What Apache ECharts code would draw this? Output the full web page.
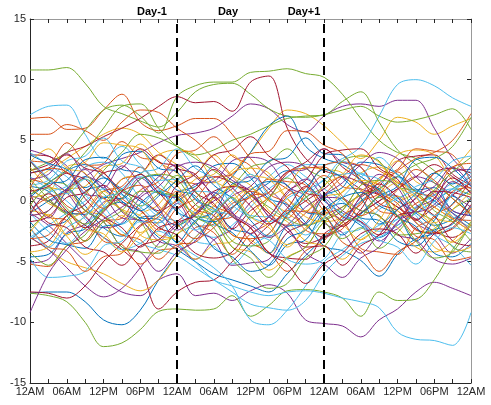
<!DOCTYPE html>
<html>
<head>
<meta charset="utf-8">
<script src="https://cdn.jsdelivr.net/npm/echarts@6/dist/echarts.min.js"></script>
<style>html,body{margin:0;padding:0;background:#fff}#c{width:491px;height:405px}</style>
</head>
<body>
<div id="c"></div>
<script>
// Hours sampled every 3 h over three days
const hours = [0,3,6,9,12,15,18,21,24,27,30,33,36,39,42,45,48,51,54,57,60,63,66,69,72];
const tickLabels = ['12AM','06AM','12PM','06PM'];
const dayLabels = ['Day-1','Day','Day+1'];
const dayBoundaries = [24,48];
const colors = ['#0072BD','#D95319','#EDB120','#7E2F8E','#77AC30','#4DBEEE','#A2142F'];

const blueSeries = [
 [-7.6,-7.5,-7.5,-8.3,-9.8,-10.2,-9.0,-6.5,-4.5,-3.0,-1.5,-0.5,0.5,1.5,2.5,1.5,0.0,-1.0,-2.0,-3.0,-2.0,-1.0,0.0,1.0,2.0],
 [0.5,1.5,2.5,3.0,2.0,1.0,0.0,-1.0,-2.0,-1.0,0.5,2.0,4.0,6.2,7.0,4.5,3.5,3.0,2.0,1.0,0.0,-1.0,-2.0,-1.5,-0.5],
 [-1.0,0.0,1.0,2.0,1.0,0.0,-1.5,-3.0,-4.0,-5.0,-6.0,-6.5,-7.0,-7.5,-6.0,-4.5,-3.0,-1.5,0.0,1.0,2.0,1.0,0.0,-1.0,-2.0],
 [2.3,2.6,1.2,-0.4,-2.2,-2.9,-1.4,-1.1,0.7,1.2,2.9,3.1,1.9,0.2,-0.3,-1.8,-3.7,-4.1,-4.9,-6.2,-4.4,-3.1,-2.6,-0.2,0.9],
 [-3.2,-2.1,-1.6,0.8,1.4,3.8,4.1,2.7,2.4,0.1,-0.6,-2.3,-2.7,-4.3,-2.1,-1.9,0.4,1.1,3.2,3.0,2.2,0.9,1.1,-0.8,-1.2],
 [1.2,0.8,-0.9,-1.1,0.3,0.2,1.8,2.1,0.9,0.4,-1.8,-2.6,-4.1,-5.3,-3.6,-3.2,-0.9,-0.2,-1.4,-1.6,-3.3,-3.7,-2.4,-1.9,0.3],
 [-4.6,-4.4,-2.7,-2.3,-0.6,-0.1,-1.4,-1.5,-3.4,-1.6,-0.9,1.4,1.7,3.3,3.6,5.2,3.9,3.8,1.6,0.9,-1.3,-2.1,-4.3,-4.6,-3.5],
 [0.3,1.4,1.7,3.4,3.6,2.6,2.3,0.6,0.4,-1.3,-1.7,-0.6,0.9,1.6,1.3,-0.9,-1.2,-2.8,-1.1,0.4,1.2,3.4,3.6,2.7,1.2],
 [-1.7,-3.2,-3.6,-3.9,-2.1,-1.9,-0.2,0.8,-0.9,-1.7,-3.9,-4.6,-5.8,-5.3,-3.1,-2.4,-0.7,0.3,0.7,-0.4,-1.2,-3.3,-1.6,0.4,-1.3],
 [3.8,3.1,2.6,1.1,1.9,0.6,-0.8,0.4,1.7,2.9,1.3,0.2,-1.6,-2.9,-1.1,0.8,2.6,1.9,0.3,-1.9,-0.7,0.6,2.3,1.4,2.9]
];
const orangeSeries = [
 [6.8,6.9,5.9,6.0,7.5,8.8,6.5,5.8,6.2,6.8,6.8,5.5,3.5,2.0,1.0,0.0,-1.0,-0.5,0.5,1.5,2.5,3.5,4.0,5.0,7.2],
 [5.5,5.5,6.3,5.8,5.0,6.5,7.5,7.3,6.0,5.0,3.5,2.0,0.5,-1.0,-2.0,-1.0,0.5,2.0,3.0,2.5,1.5,0.5,-0.5,-1.5,-2.5],
 [-0.7,0.3,0.8,2.8,3.1,4.9,3.6,3.3,1.6,1.4,-0.4,-1.1,-3.4,-4.2,-5.8,-4.1,-3.3,-1.2,-0.3,1.9,2.6,4.3,4.1,3.8,1.6],
 [1.8,1.3,-0.4,-1.2,-3.3,-3.6,-5.2,-4.1,-3.8,-2.2,-1.9,-0.2,0.3,1.8,1.6,1.3,-0.8,-1.6,-3.9,-4.2,-4.4,-2.2,-1.4,0.8,1.1],
 [-3.1,-2.8,-1.2,-0.9,0.8,1.2,2.8,1.1,0.3,-1.8,-2.6,-4.4,-2.7,-1.8,0.4,1.1,2.9,3.2,2.8,0.7,-0.2,-2.4,-2.6,-2.3,-0.6],
 [0.4,-1.3,-1.6,-3.3,-1.7,-1.4,0.9,1.6,3.9,4.2,5.3,3.7,2.9,0.6,-0.2,-2.4,-2.7,-2.3,-0.1,0.6,2.4,0.7,0.3,-1.4,-1.6],
 [-5.2,-5.4,-3.7,-3.3,-1.6,-2.8,-3.2,-4.8,-3.6,-3.4,-1.6,-1.3,0.4,0.7,2.4,2.7,2.8,1.2,0.9,-0.8,-1.2,-2.9,-3.2,-4.9,-4.6],
 [3.3,3.2,4.8,3.1,2.4,0.2,-0.7,-2.4,-0.6,0.2,1.9,2.2,3.9,4.1,5.8,5.7,4.6,3.9,1.7,0.8,-1.3,-0.2,0.7,2.8,3.1],
 [-2.2,-3.8,-4.1,-5.8,-4.6,-4.3,-2.1,-1.3,0.8,-0.7,-1.2,-2.8,-3.1,-2.7,-0.8,-0.9,-1.2,-3.4,-4.1,-5.8,-4.2,-3.3,-1.2,-0.3,1.8],
 [1.1,2.7,2.4,0.9,-0.6,0.8,1.3,-0.4,-1.9,-3.1,-2.2,-0.6,0.8,0.1,-1.4,0.6,2.1,0.4,-1.2,-0.4,0.9,2.6,1.7,0.2,-1.1]
];
const yellowSeries = [
 [1.5,2.5,3.5,4.5,5.5,6.0,5.5,4.0,3.0,2.0,1.5,2.5,4.0,6.0,7.5,7.2,6.2,4.8,3.5,5.0,6.9,6.5,5.5,6.2,6.8],
 [-1.2,-0.8,0.9,1.2,2.8,3.1,4.7,3.2,2.3,0.2,-0.7,-2.8,-3.2,-4.3,-2.6,-1.8,0.3,0.7,2.3,2.8,1.6,0.8,-1.3,-1.7,-0.6],
 [-3.0,-4.0,-5.0,-5.5,-6.0,-6.8,-7.4,-6.5,-4.5,-3.0,-1.5,0.0,1.0,0.0,-1.0,-2.0,-3.0,-2.0,-1.0,0.5,1.5,0.5,-0.5,-1.5,-2.5],
 [2.8,1.2,0.8,-0.8,-1.2,-2.8,-1.1,-0.3,1.8,2.2,3.8,2.1,1.3,-0.8,-1.7,-3.3,-3.7,-4.8,-3.2,-2.3,-0.2,0.7,2.3,2.7,4.3],
 [0.3,0.7,2.8,3.2,4.8,4.6,4.3,2.1,1.3,-0.8,-1.6,-3.8,-4.2,-5.7,-4.6,-3.8,-1.7,-0.8,1.3,1.7,3.3,1.6,0.8,-1.3,-2.2],
 [-4.2,-3.8,-1.7,-0.8,0.8,-0.7,-1.2,-2.8,-3.2,-4.8,-3.6,-3.3,-1.2,0.3,1.2,2.8,2.6,2.3,0.2,-1.3,-2.2,-3.8,-4.2,-3.3,-1.7],
 [3.2,4.3,2.7,2.3,0.2,-0.7,-2.8,-3.2,-2.8,-0.7,0.2,2.3,2.7,2.3,0.2,-1.3,-1.7,-1.3,0.8,1.7,3.8,4.2,3.8,1.7,0.8],
 [-0.8,-1.2,-2.8,-1.2,-0.3,1.8,2.2,3.8,4.2,3.8,1.7,0.8,-1.3,-2.2,-3.8,-2.2,-1.3,0.8,1.7,1.3,-0.8,-1.7,-3.8,-4.2,-3.8],
 [1.3,-0.2,-0.8,-2.3,-2.7,-4.2,-2.8,-1.7,0.2,1.8,2.2,3.8,2.2,1.8,0.2,-0.8,1.3,2.2,3.8,3.2,1.2,0.3,-1.8,-0.7,0.8],
 [-2.6,-1.1,-2.9,-4.4,-3.1,-1.2,-2.6,-0.9,0.6,-1.1,-0.4,1.3,0.2,-1.8,-3.6,-2.4,-0.6,-1.9,-3.2,-1.6,0.4,-0.8,-2.1,-3.4,-1.9]
];
const purpleSeries = [
 [0.5,0.0,1.0,2.0,3.0,3.5,4.0,4.8,5.4,5.6,6.0,7.0,8.0,7.6,6.3,5.7,7.0,7.8,8.0,7.8,8.3,8.3,6.0,3.5,2.0],
 [-1.0,-2.0,-3.5,-5.0,-6.5,-7.5,-7.8,-6.5,-6.0,-7.8,-7.6,-8.2,-7.4,-6.9,-7.6,-9.8,-10.1,-10.3,-11.2,-9.8,-8.9,-7.5,-6.7,-7.2,-7.8],
 [-3.0,-4.0,-5.5,-7.0,-7.9,-7.2,-5.5,-3.5,-2.0,-1.0,0.0,1.0,2.0,1.0,-0.5,-2.0,-3.0,-2.0,-1.0,0.0,1.0,2.0,1.5,0.5,-0.5],
 [4.2,3.7,2.9,0.6,0.3,-1.4,-1.6,-3.3,-3.7,-4.8,-3.2,-2.3,-0.1,0.7,2.4,2.6,4.3,3.2,2.8,0.6,0.4,-1.8,-2.7,-4.3,-3.1],
 [-5.1,-4.8,-2.6,-1.9,-0.1,0.2,1.9,0.6,0.3,1.4,1.6,3.3,3.6,3.2,1.2,0.4,-1.8,-2.6,-4.3,-2.8,-2.3,-0.6,0.2,2.4,2.6],
 [1.8,2.2,3.9,2.2,1.3,-0.9,-1.6,-1.8,-0.2,-2.4,-3.2,-5.3,-5.1,-4.8,-2.6,-1.8,0.3,0.2,-0.8,-1.2,-2.8,-3.2,-4.8,-5.2,-4.7],
 [-1.2,-0.8,0.9,-0.8,-1.7,-3.8,-4.2,-5.8,-4.2,-3.3,-1.2,0.4,1.2,2.8,3.2,2.8,0.7,-0.8,-1.7,-3.3,-1.8,0.3,1.2,2.8,1.2],
 [3.3,1.8,0.7,-1.3,-2.2,-1.8,0.3,1.2,2.8,3.2,2.8,1.7,0.8,-1.3,-2.2,-4.3,-5.2,-6.3,-4.7,-3.8,-1.7,-0.8,0.8,-0.8,-1.2],
 [-9.2,-6.0,-4.0,-2.5,-1.5,-0.5,0.5,2.0,3.0,2.0,0.5,-1.0,-2.0,-3.0,-2.0,-0.5,0.5,1.5,3.0,4.0,3.5,2.0,0.5,-1.0,-2.5],
 [0.6,-1.4,0.9,2.6,1.1,2.9,1.4,-0.6,-2.4,-1.1,0.7,-0.9,-2.7,-1.3,0.6,1.8,0.2,-1.6,0.4,2.2,1.1,-0.9,-0.3,1.6,0.7]
];
const greenSeries = [
 [10.8,10.8,11.0,9.7,7.8,7.2,6.6,6.1,7.3,9.0,9.6,9.7,8.8,7.6,7.0,6.9,7.1,7.5,7.8,7.0,6.5,6.7,7.1,7.6,5.9],
 [2.5,3.2,4.0,5.8,7.5,7.9,7.0,5.6,8.6,9.5,9.8,9.8,10.6,10.7,10.9,10.5,10.2,8.8,6.8,5.0,4.0,3.5,2.5,1.2,0.5],
 [-7.6,-7.8,-8.3,-10.0,-12.0,-11.7,-10.6,-9.1,-8.9,-9.0,-8.9,-7.8,-9.5,-8.6,-7.4,-7.3,-7.5,-8.0,-9.5,-7.5,-8.2,-8.1,-6.5,-4.0,-2.0],
 [1.0,0.0,-1.0,0.5,2.5,4.0,5.5,5.2,4.5,3.8,4.2,5.0,5.5,6.2,6.8,7.0,7.1,8.2,9.0,6.5,4.2,3.0,1.5,0.2,-1.0],
 [0.5,1.5,2.5,4.0,6.0,7.8,8.0,6.0,4.5,3.5,2.5,1.5,0.5,-0.5,-1.5,-2.0,-1.5,-0.5,0.5,1.0,2.0,3.0,3.5,4.5,6.9],
 [-2.3,-0.8,0.7,1.8,0.6,-0.8,-1.7,-3.8,-2.7,-1.8,0.3,1.2,2.8,3.2,4.3,2.7,1.8,0.2,-0.8,-1.2,-2.8,-2.7,-2.3,-0.7,0.2],
 [3.3,1.7,1.3,-0.8,-1.7,-3.8,-4.2,-4.3,-2.2,-1.3,-1.7,-3.8,-4.7,-6.3,-4.7,-3.8,-1.7,-0.8,1.3,1.7,1.3,-0.8,-1.7,-3.8,-4.2],
 [-4.2,-5.3,-3.7,-2.8,-0.7,0.2,1.8,2.2,1.8,-0.3,-1.2,-3.3,-3.7,-3.3,-1.2,0.3,1.2,3.3,3.7,3.3,1.2,0.8,-0.8,-1.7,-3.3],
 [1.8,0.2,-1.2,-3.3,-1.7,-0.8,0.8,0.7,0.3,-1.3,-2.2,-4.8,-6.2,-7.2,-6.8,-4.7,-3.8,-1.7,-1.3,0.3,-1.2,-3.3,-4.7,-4.2,-1.7],
 [-0.4,1.1,-0.6,-1.9,-0.8,0.9,-0.4,0.6,2.1,0.8,-0.9,0.3,-1.4,0.2,1.9,0.4,-1.6,-3.1,-2.2,-3.9,-2.6,-0.8,0.9,2.4,3.6]
];
const cyanSeries = [
 [7.1,7.8,7.9,5.5,3.5,4.5,3.0,1.5,0.0,-1.0,-2.0,-1.0,0.5,2.0,3.0,2.0,1.0,0.0,-1.5,-2.5,-1.5,-0.5,0.5,1.5,2.5],
 [-1.0,-2.5,-3.5,-2.0,-0.5,1.0,2.0,1.0,-0.5,-2.0,-3.0,-2.0,-0.5,1.0,2.0,3.0,3.0,3.5,4.5,7.0,9.6,10.0,9.5,8.5,7.8],
 [2.0,1.0,0.0,-1.5,-3.0,-4.0,-3.5,-2.5,-3.5,-5.0,-6.5,-7.0,-7.5,-7.8,-7.5,-7.4,-7.6,-8.0,-8.3,-8.8,-10.8,-11.4,-11.5,-11.9,-9.2],
 [-3.0,-2.0,-1.0,0.0,1.0,0.5,-0.5,-2.0,-3.5,-4.5,-5.5,-7.0,-9.8,-10.2,-9.0,-7.0,-5.0,-4.0,-3.0,-2.0,-1.5,-0.5,0.5,1.0,0.0],
 [4.0,3.0,2.0,0.5,-1.0,-2.5,-3.5,-4.0,-4.5,-5.5,-6.5,-7.5,-8.5,-8.8,-9.0,-8.2,-6.0,-4.5,-3.5,-3.0,-2.0,-1.0,0.0,1.0,1.5],
 [-0.8,0.7,1.2,2.8,3.2,2.3,0.2,-1.3,-1.7,-3.3,-3.7,-5.2,-3.8,-2.7,-0.8,0.2,1.8,2.2,2.3,0.7,0.3,-1.2,-2.8,-3.7,-5.3],
 [-4.7,-6.3,-6.2,-5.8,-3.7,-3.3,-1.7,-1.8,-0.2,0.8,0.7,0.3,-1.3,-1.7,-0.8,0.8,1.7,3.3,2.2,1.8,0.2,1.2,1.8,3.3,3.7],
 [1.3,1.7,3.3,3.7,5.2,3.3,2.8,1.7,1.8,0.2,-0.8,-1.2,-2.8,-3.2,-4.8,-5.2,-4.8,-2.7,-2.3,-0.7,0.2,0.8,-0.2,-1.3,-2.2],
 [-2.2,-3.8,-2.2,-1.3,0.3,0.7,2.3,2.7,4.3,2.7,1.8,-0.3,-1.2,-1.3,0.2,0.8,0.3,-1.2,-1.8,-3.2,-3.8,-5.2,-3.3,-2.2,-2.7],
 [3.4,1.9,0.6,1.8,-0.4,-1.9,-0.6,0.9,-0.8,-2.4,-0.9,0.6,2.2,0.4,-1.3,-2.8,-1.4,0.3,1.9,3.6,2.1,0.4,-1.2,0.6,2.3]
];
const crimsonSeries = [
 [2.5,3.0,4.0,4.5,5.3,6.0,6.8,7.8,8.6,8.1,8.2,7.4,9.8,10.3,6.0,3.5,2.5,2.0,1.0,0.5,-0.5,-1.5,-0.5,0.5,1.5],
 [1.0,0.0,-1.0,-2.0,-3.0,-4.0,-5.5,-8.9,-7.5,-6.7,-6.5,-5.0,-3.5,-2.0,-1.0,0.0,1.0,2.0,1.5,0.5,-0.5,-1.5,-2.5,-3.0,-2.0],
 [-7.5,-7.6,-8.0,-7.0,-5.0,-3.5,-2.0,-1.0,0.0,1.0,2.0,1.5,0.5,-1.0,-2.5,-3.5,-3.0,-2.0,-1.0,0.0,1.0,2.0,3.0,2.0,1.0],
 [3.8,3.7,2.3,1.8,0.2,1.8,2.2,3.8,2.7,2.2,0.3,-1.2,-2.2,-4.3,-4.7,-4.8,-2.7,-1.8,0.3,1.2,3.3,3.7,3.8,2.2,1.3],
 [-1.7,-1.3,0.3,0.7,2.3,2.7,4.3,3.2,2.8,0.7,-0.2,-2.3,-0.8,0.3,2.3,3.2,4.3,2.8,1.7,-0.2,-0.8,-2.3,-2.7,-2.2,-0.3],
 [0.8,1.2,2.3,0.2,-1.3,-2.2,-3.8,-2.2,-1.7,-0.3,0.8,1.2,0.8,-1.3,-2.2,-3.8,-3.7,-5.3,-3.7,-2.8,-0.7,0.2,2.3,2.7,2.3],
 [-3.7,-3.3,-1.2,-0.3,1.3,-0.2,-0.8,-2.2,-2.8,-4.3,-4.7,-4.2,-2.2,-1.3,0.8,1.7,3.8,4.2,4.3,2.7,1.8,-0.3,-1.2,-3.3,-3.7],
 [2.3,2.7,3.8,2.7,2.3,0.8,0.2,-0.8,1.3,2.2,3.8,4.2,5.3,3.7,2.8,0.7,0.3,-1.3,-1.7,-2.8,-1.2,-0.8,0.8,0.7,0.3],
 [-0.2,-1.8,-2.2,-3.8,-4.2,-5.3,-3.7,-3.2,-1.8,-1.2,0.3,-1.3,-2.2,-4.3,-5.2,-6.8,-5.2,-4.3,-2.7,-2.3,-2.7,-4.3,-2.7,-1.8,0.2],
 [-1.1,0.6,-0.8,-2.2,-0.9,0.8,2.2,0.7,-0.6,0.9,2.6,1.1,-0.4,-1.9,-0.6,1.2,-0.4,-2.1,-0.7,1.4,0.3,-1.6,0.2,1.9,0.6]
];

const groups = [blueSeries, orangeSeries, yellowSeries, purpleSeries, greenSeries, cyanSeries, crimsonSeries];
const series = [];
for (let k = 0; k < 10; k++) {
  for (let c = 0; c < groups.length; c++) {
    const vals = groups[c][k];
    series.push({
      type: 'line',
      data: vals.map((v, i) => [hours[i], v]),
      showSymbol: false,
      smooth: 0.35,
      silent: true,
      lineStyle: { width: 1, color: colors[c] },
      itemStyle: { color: colors[c] }
    });
  }
}
series.push({
  type: 'line',
  data: [],
  silent: true,
  z: 10,
  markLine: {
    silent: true,
    symbol: 'none',
    label: { show: false },
    lineStyle: { color: '#000', width: 2, type: [9, 5] },
    data: dayBoundaries.map(h => ({ xAxis: h }))
  }
});

const font = 'Liberation Sans, Arial, Helvetica, sans-serif';
const chart = echarts.init(document.getElementById('c'), null, { renderer: 'canvas' });
const dayX = [152, 228, 304];
chart.setOption({
  animation: false,
  backgroundColor: '#fff',
  grid: { left: 30, top: 19, width: 441, height: 364, containLabel: false },
  xAxis: [
    {
      type: 'value', min: 0, max: 72, interval: 3, position: 'bottom',
      axisLine: { onZero: false, lineStyle: { color: '#262626', width: 1 } },
      axisTick: { inside: true, length: 4, lineStyle: { color: '#262626' } },
      axisLabel: {
        color: '#262626', fontSize: 11, fontFamily: font, margin: 3,
        formatter: v => (v % 6 === 0 ? tickLabels[(v / 6) % 4] : '')
      },
      splitLine: { show: false }
    },
    {
      type: 'value', min: 0, max: 72, interval: 3, position: 'top',
      axisLine: { onZero: false, lineStyle: { color: '#999', width: 1 } },
      axisTick: { inside: true, length: 4, lineStyle: { color: '#262626' } },
      axisLabel: { show: false },
      splitLine: { show: false }
    }
  ],
  yAxis: [
    {
      type: 'value', min: -15, max: 15, interval: 5, position: 'left',
      axisLine: { show: true, onZero: false, lineStyle: { color: '#262626', width: 1 } },
      axisTick: { show: true, inside: true, length: 4, lineStyle: { color: '#262626' } },
      axisLabel: { color: '#262626', fontSize: 11, fontFamily: font, margin: 4 },
      splitLine: { show: false }
    },
    {
      type: 'value', min: -15, max: 15, interval: 5, position: 'right',
      axisLine: { show: true, onZero: false, lineStyle: { color: '#999', width: 1 } },
      axisTick: { show: true, inside: true, length: 4, lineStyle: { color: '#262626' } },
      axisLabel: { show: false },
      splitLine: { show: false }
    }
  ],
  graphic: dayLabels.map((t, i) => ({
    type: 'text', x: dayX[i], y: 12, silent: true,
    style: { text: t, font: 'bold 11px ' + font, fill: '#000', align: 'center', verticalAlign: 'middle' }
  })),
  series: series
});
</script>
</body>
</html>
